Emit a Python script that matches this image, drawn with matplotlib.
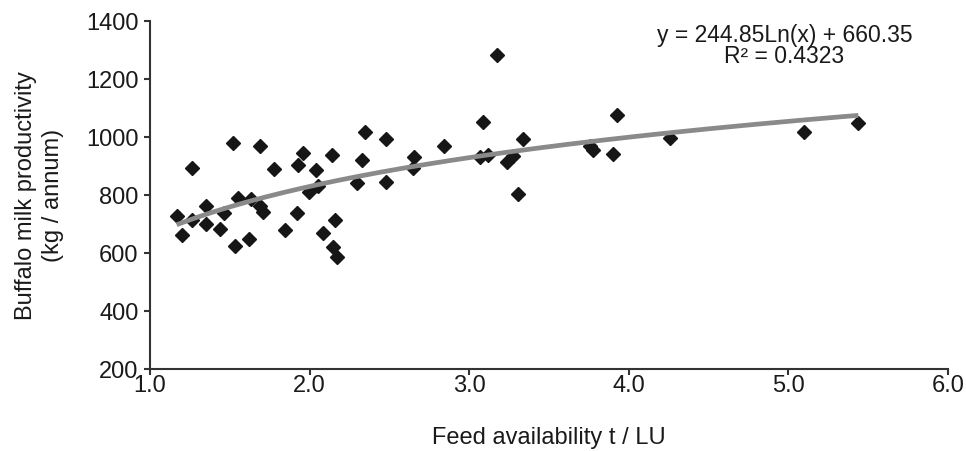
import numpy as np
import matplotlib
matplotlib.use("Agg")
import matplotlib.pyplot as plt

plt.rcParams['font.family'] = ['Liberation Sans', 'DejaVu Sans']

feed = [1.167, 1.198, 1.261, 1.261, 1.349, 1.349, 1.439, 1.464, 1.523, 1.533,
        1.550, 1.620, 1.633, 1.689, 1.689, 1.706, 1.779, 1.846, 1.919, 1.929,
        1.961, 1.999, 2.039, 2.055, 2.086, 2.139, 2.160, 2.149, 2.170, 2.295,
        2.326, 2.347, 2.477, 2.477, 2.650, 2.656, 2.844, 3.068, 3.086, 3.120,
        3.172, 3.235, 3.272, 3.304, 3.335, 3.757, 3.777, 3.903, 3.924, 4.258,
        5.098, 5.438]
milk = [729, 663, 893, 715, 763, 700, 683, 738, 979, 625,
        790, 648, 786, 968, 763, 743, 890, 680, 738, 904,
        945, 812, 887, 832, 671, 939, 715, 623, 588, 843,
        922, 1019, 993, 847, 893, 933, 970, 931, 1051, 939,
        1284, 916, 935, 803, 994, 968, 956, 942, 1077, 997,
        1017, 1050]

coef_a = 244.85
coef_b = 660.35
r2 = 0.4323

x_ticks = [1.0, 2.0, 3.0, 4.0, 5.0, 6.0]
y_ticks = [200, 400, 600, 800, 1000, 1200, 1400]

fig = plt.figure(figsize=(9.66, 4.51), dpi=100)
ax = fig.add_axes([0.1553, 0.1811, 0.8261, 0.7723])

xt = np.linspace(min(feed), max(feed), 200)
ax.plot(xt, coef_a * np.log(xt) + coef_b, color='#8a8a8a', lw=3.4,
        solid_capstyle='butt', zorder=3)
ax.plot(feed, milk, linestyle='none', marker='D', ms=7.6, color='#161616',
        zorder=2)

ax.set_xlim(1.0, 6.0)
ax.set_ylim(200, 1400)
ax.set_xticks(x_ticks)
ax.set_xticklabels([f"{v:.1f}" for v in x_ticks])
ax.set_yticks(y_ticks)
ax.set_yticklabels([str(v) for v in y_ticks])

for s in ['top', 'right']:
    ax.spines[s].set_visible(False)
for s in ['left', 'bottom']:
    ax.spines[s].set_color('#333333')
    ax.spines[s].set_linewidth(1.5)
ax.tick_params(axis='both', direction='out', length=4.3, width=1.5,
               color='#333333', labelsize=17, labelcolor='#1a1a1a')
ax.tick_params(axis='y', pad=4)
ax.tick_params(axis='x', pad=0)

ax.set_xlabel('Feed availability t / LU', fontsize=17, color='#1a1a1a')
ax.xaxis.set_label_coords(0.5, -0.165)
ax.set_ylabel('Buffalo milk productivity\n(kg / annum)', fontsize=17,
              color='#1a1a1a', linespacing=1.3)
ax.yaxis.set_label_coords(-0.108, 0.5)

ax.text(0.795, 0.992, f'y = {coef_a:.2f}Ln(x) + {coef_b:.2f}\nR\u00b2 = {r2:.4f}',
        transform=ax.transAxes, ha='center', va='top', fontsize=16.5,
        color='#1a1a1a', linespacing=0.9)

fig.savefig('out.png', dpi=100)
